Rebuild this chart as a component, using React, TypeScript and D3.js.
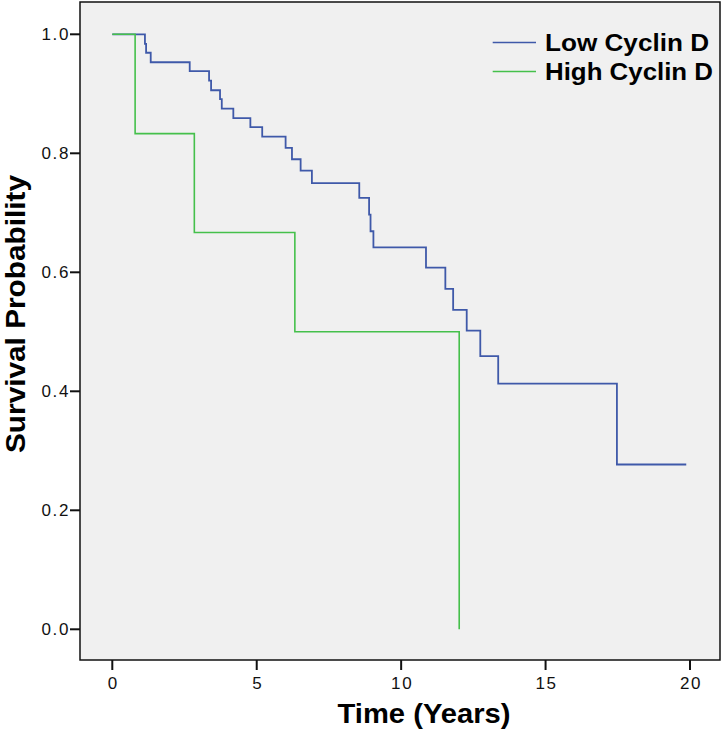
import { useMemo } from "react";
import * as d3 from "d3";

const WIDTH = 724;
const HEIGHT = 732;

// Kaplan-Meier steps
const lowTimes = [0, 1.13, 1.17, 1.33, 2.68, 3.35, 3.42, 3.73, 3.79, 4.19, 4.78, 5.19, 6.0, 6.22, 6.52, 6.91, 8.55, 8.89, 8.94, 9.04, 10.86, 11.53, 11.8, 12.27, 12.74, 13.36, 17.47, 19.87];
const lowSurvival = [1, 0.984, 0.969, 0.953, 0.938, 0.922, 0.906, 0.891, 0.875, 0.859, 0.844, 0.828, 0.809, 0.79, 0.771, 0.75, 0.725, 0.697, 0.669, 0.642, 0.608, 0.572, 0.537, 0.502, 0.459, 0.413, 0.277, 0.277];

const highTimes = [0, 0.79, 2.84, 6.32, 12.01];
const highSurvival = [1, 0.833, 0.667, 0.5, 0];

const xTicks = [0, 5, 10, 15, 20];
const yTicks = [0, 0.2, 0.4, 0.6, 0.8, 1.0];

const seriesNames = ["Low Cyclin D", "High Cyclin D"];
const seriesColors = ["#3f59a9", "#45c04b"];

const FONT = "'Liberation Sans', Arial, sans-serif";

export default function App() {
  const frame = { left: 80, top: 2, right: 720, bottom: 660 };

  const x = d3.scaleLinear().domain([0, 20]).range([112.3, 690]);
  const y = d3.scaleLinear().domain([0, 1]).range([629.3, 34.3]);

  const paths = useMemo(() => {
    const line = d3
      .line<[number, number]>()
      .x((d) => x(d[0]))
      .y((d) => y(d[1]))
      .curve(d3.curveStepAfter);
    const low = lowTimes.map((t, i) => [t, lowSurvival[i]] as [number, number]);
    const high = highTimes.map((t, i) => [t, highSurvival[i]] as [number, number]);
    return [line(low), line(high)];
  }, []);

  return (
    <svg
      width={WIDTH}
      height={HEIGHT}
      style={{ position: "absolute", left: 0, top: 0, background: "#fff" }}
    >
      {/* plot area */}
      <rect
        x={frame.left}
        y={frame.top}
        width={frame.right - frame.left}
        height={frame.bottom - frame.top}
        fill="#f0f0f0"
        stroke="#111"
        strokeWidth={1.5}
      />

      {/* y axis ticks */}
      {yTicks.map((t) => (
        <g key={`y${t}`}>
          <line x1={frame.left - 10} x2={frame.left} y1={y(t)} y2={y(t)} stroke="#111" strokeWidth={2} />
          <text
            x={frame.left - 10}
            y={y(t)}
            dy="0.36em"
            textAnchor="end"
            fontFamily={FONT}
            fontSize={17}
            letterSpacing={1.6}
            fill="#111"
          >
            {t.toFixed(1)}
          </text>
        </g>
      ))}

      {/* x axis ticks */}
      {xTicks.map((t) => (
        <g key={`x${t}`}>
          <line x1={x(t)} x2={x(t)} y1={frame.bottom} y2={frame.bottom + 10} stroke="#111" strokeWidth={2} />
          <text
            x={x(t) + 1}
            y={688.5}
            textAnchor="middle"
            fontFamily={FONT}
            fontSize={17}
            letterSpacing={1.6}
            fill="#111"
          >
            {t}
          </text>
        </g>
      ))}

      {/* curves */}
      <path d={paths[0] ?? ""} fill="none" stroke={seriesColors[0]} strokeWidth={1.8} />
      <path d={paths[1] ?? ""} fill="none" stroke={seriesColors[1]} strokeWidth={1.6} />

      {/* legend */}
      {seriesNames.map((name, i) => (
        <g key={name} transform={`translate(0,${i * 29})`}>
          <line x1={492.7} x2={536} y1={42.5} y2={42.5} stroke={seriesColors[i]} strokeWidth={1.6} />
          <text
            x={545}
            y={50.5}
            fontFamily={FONT}
            fontWeight="bold"
            fontSize={23.5}
            textLength={i === 0 ? 164 : 168}
            lengthAdjust="spacingAndGlyphs"
            fill="#000"
          >
            {name}
          </text>
        </g>
      ))}

      {/* axis titles */}
      <text
        x={424}
        y={722.7}
        textAnchor="middle"
        fontFamily={FONT}
        fontWeight="bold"
        fontSize={28}
        textLength={173}
        lengthAdjust="spacingAndGlyphs"
        fill="#000"
      >
        Time (Years)
      </text>
      <text
        transform={`translate(25,314) rotate(-90)`}
        textAnchor="middle"
        fontFamily={FONT}
        fontWeight="bold"
        fontSize={27}
        textLength={278}
        lengthAdjust="spacingAndGlyphs"
        fill="#000"
      >
        Survival Probability
      </text>
    </svg>
  );
}
